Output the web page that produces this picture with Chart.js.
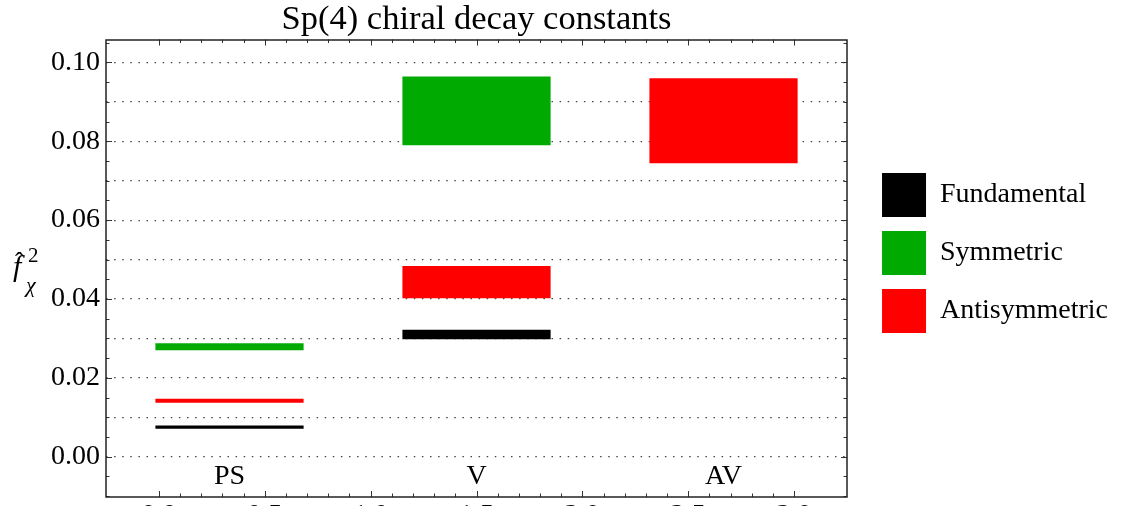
<!DOCTYPE html>
<html>
<head>
<meta charset="utf-8">
<script src="https://cdn.jsdelivr.net/npm/chart.js@4.4.0/dist/chart.umd.min.js"></script>
<style>
  html, body { margin: 0; padding: 0; background: #fff; overflow: hidden; }
  #wrap { width: 1129px; height: 506px; }
</style>
</head>
<body>
<div id="wrap"><canvas id="grafico" width="1129" height="506"></canvas></div>
<script>
    // Categorias (canais) e faixas [mínimo, máximo] de cada representação
    const categorias = ['PS', 'V', 'AV'];
    const fundamental = [[0.0071, 0.0079], [0.0298, 0.0322], null];
    const simetrica = [[0.0270, 0.0288], [0.0790, 0.0964], null];
    const antissimetrica = [[0.0137, 0.0147], [0.0402, 0.0484], [0.0744, 0.0960]];

    // Linhas de grade e rótulos dos eixos
    const yGrade = [0, 0.01, 0.02, 0.03, 0.04, 0.05, 0.06, 0.07, 0.08, 0.09, 0.10];
    const yRotulos = ['0.00', '0.02', '0.04', '0.06', '0.08', '0.10'];
    const xRotulos = ['0.0', '0.5', '1.0', '1.5', '2.0', '2.5', '3.0'];

    const fonte = "'Liberation Serif', 'Times New Roman', serif";
    Chart.defaults.font.family = fonte;
    Chart.defaults.color = '#000';

    // Plugin para desenhar a moldura, os tracinhos internos, os nomes das categorias e o rótulo do eixo y
    const molduraPlugin = {
        id: 'moldura',
        afterDraw(chart) {
            const { ctx, chartArea: a, scales } = chart;
            const xs = scales.xNum;
            const ys = scales.y;
            const xc = scales.x;
            ctx.save();

            // Tracinhos do eixo x (em cima e embaixo)
            ctx.strokeStyle = '#333';
            ctx.lineWidth = 1;
            ctx.beginPath();
            for (let i = 0; i <= 30; i++) {
                const px = Math.round(xs.getPixelForValue(i * 0.1)) + 0.5;
                const len = i % 5 === 0 ? 6 : 3.5;
                ctx.moveTo(px, a.bottom); ctx.lineTo(px, a.bottom - len);
                ctx.moveTo(px, a.top); ctx.lineTo(px, a.top + len);
            }
            // Tracinhos do eixo y (esquerda e direita)
            for (let i = -2; i <= 21; i++) {
                const py = Math.round(ys.getPixelForValue(i * 0.005)) + 0.5;
                if (py < a.top || py > a.bottom) continue;
                const len = i % 4 === 0 ? 6 : 3.5;
                ctx.moveTo(a.left, py); ctx.lineTo(a.left + len, py);
                ctx.moveTo(a.right, py); ctx.lineTo(a.right - len, py);
            }
            ctx.stroke();

            // Moldura
            ctx.strokeStyle = '#222';
            ctx.lineWidth = 1.5;
            ctx.strokeRect(Math.round(a.left), Math.round(a.top), Math.round(a.right - a.left), Math.round(a.bottom - a.top));

            // Nomes das categorias logo abaixo do zero
            ctx.fillStyle = '#000';
            ctx.font = '28px ' + fonte;
            ctx.textAlign = 'center';
            ctx.textBaseline = 'middle';
            const yNome = ys.getPixelForValue(-0.005);
            categorias.forEach((c, i) => {
                ctx.fillText(c, xc.getPixelForValue(i), yNome);
            });

            // Rótulo do eixo y: f chapéu, chi subscrito, 2 sobrescrito
            ctx.textAlign = 'left';
            ctx.textBaseline = 'alphabetic';
            ctx.font = 'italic 30px ' + fonte;
            ctx.fillText('f', 13, 276);
            ctx.font = '26px ' + fonte;
            ctx.fillText('\u02C6', 15, 270);
            ctx.font = '21px ' + fonte;
            ctx.fillText('2', 28, 262);
            ctx.font = 'italic 22px ' + fonte;
            ctx.fillText('\u03C7', 26, 292);
            ctx.restore();
        }
    };

    // Função para criar o gráfico
    function createGraph() {
        const ctx = document.getElementById('grafico').getContext('2d');

        const conjunto = (label, dados, cor) => ({
            label: label,
            data: dados,
            backgroundColor: cor,
            borderWidth: 0,
            xAxisID: 'x',
            yAxisID: 'y',
            grouped: false,
            barPercentage: 0.6,
            categoryPercentage: 1
        });

        // Zera as margens que o Chart.js reserva para os rótulos das pontas
        const semMargem = (s) => {
            s.paddingTop = 0; s.paddingBottom = 0;
            s.paddingLeft = 0; s.paddingRight = 0;
        };

        new Chart(ctx, {
            type: 'bar',
            data: {
                labels: categorias,
                datasets: [
                    conjunto('Fundamental', fundamental, '#000000'),
                    conjunto('Symmetric', simetrica, '#00aa00'),
                    conjunto('Antisymmetric', antissimetrica, '#ff0000')
                ]
            },
            options: {
                responsive: false,
                animation: false,
                devicePixelRatio: 1,
                layout: { padding: { left: 0, right: 11, top: 0, bottom: 0 } },
                plugins: {
                    tooltip: { enabled: false },
                    title: {
                        display: true,
                        text: 'Sp(4) chiral decay constants',
                        fullSize: false,
                        color: '#000',
                        font: { size: 34.5, weight: 'normal', lineHeight: 1.145 },
                        padding: 0
                    },
                    legend: {
                        position: 'right',
                        labels: {
                            boxWidth: 44,
                            boxHeight: 44,
                            padding: 14,
                            color: '#000',
                            font: { size: 28 }
                        }
                    }
                },
                scales: {
                    x: {
                        type: 'category',
                        labels: categorias,
                        offset: true,
                        display: false
                    },
                    xNum: {
                        type: 'linear',
                        position: 'bottom',
                        min: 0,
                        max: 3,
                        afterBuildTicks: (s) => { s.ticks = xRotulos.map(t => ({ value: parseFloat(t) })); },
                        afterFit: (s) => { s.height = 9; semMargem(s); },
                        grid: { display: false, drawTicks: false },
                        border: { display: false },
                        ticks: {
                            autoSkip: false,
                            maxRotation: 0,
                            padding: 5,
                            font: { size: 28, lineHeight: 1 },
                            callback: (v) => xRotulos.find(t => parseFloat(t) === v)
                        }
                    },
                    y: {
                        type: 'linear',
                        position: 'left',
                        min: -0.0102,
                        max: 0.1058,
                        afterBuildTicks: (s) => { s.ticks = yGrade.map(v => ({ value: v })); },
                        afterFit: (s) => { s.width = 106; semMargem(s); },
                        grid: { color: '#444', lineWidth: 1.2, drawTicks: false },
                        border: { display: false, dash: [1.5, 6.6] },
                        ticks: {
                            padding: 6,
                            font: { size: 28 },
                            callback: (v) => {
                                const s = v.toFixed(2);
                                return yRotulos.includes(s) ? s : '';
                            }
                        }
                    },
                    yDir: {
                        type: 'linear',
                        position: 'right',
                        display: false,
                        afterFit: (s) => { s.width = 21; semMargem(s); }
                    }
                }
            },
            plugins: [molduraPlugin]
        });
    }

    createGraph();
</script>
</body>
</html>
